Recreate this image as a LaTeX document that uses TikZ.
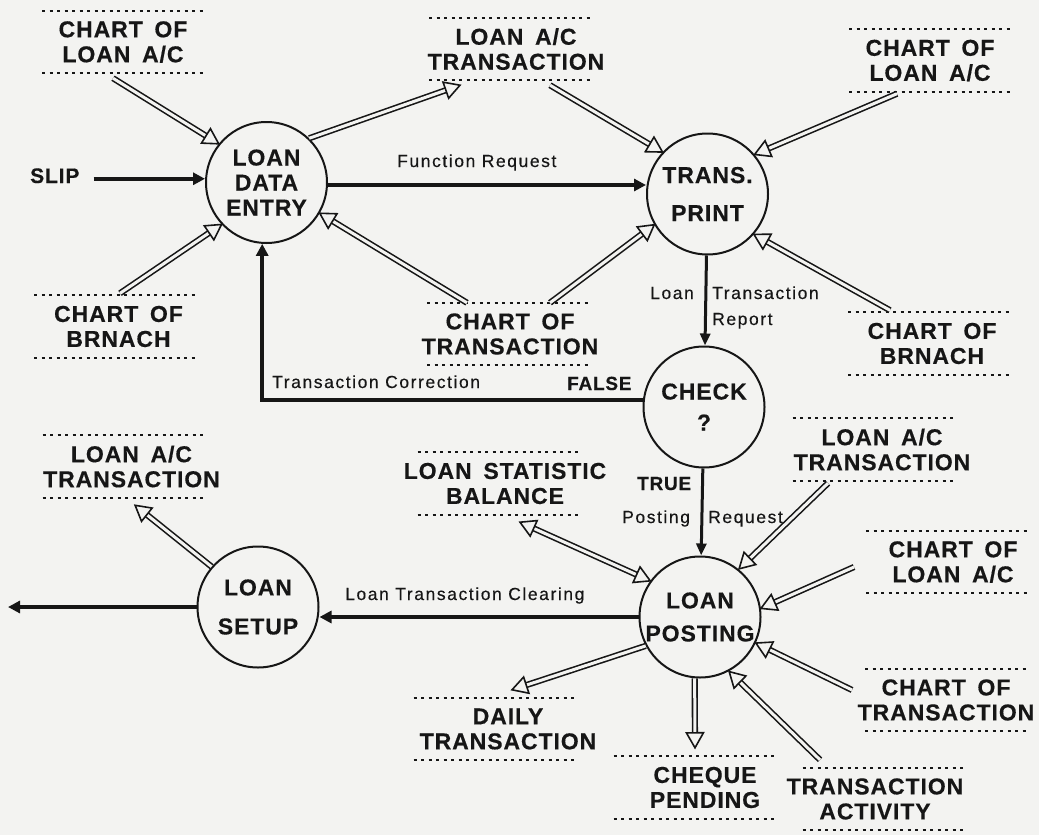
\documentclass[tikz,border=0pt]{standalone}
\usepackage{fontspec}
\setmainfont{Liberation Sans}
\newfontfamily\headfont[LetterSpace=4, WordSpace=1.6, FakeBold=0.4]{Liberation Sans}
\newfontfamily\notefont[LetterSpace=9, FakeBold=0.3]{Liberation Sans}
\usetikzlibrary{arrows.meta,decorations.markings}
\definecolor{paper}{RGB}{243,243,241}
\definecolor{ink}{RGB}{22,22,22}

\tikzset{
  proc/.style={circle, draw=ink, line width=2pt, minimum size=121pt, inner sep=0pt,
    align=center, text=ink, font=\headfont\bfseries\fontsize{23}{25}\selectfont},
  store/.style={align=center, inner sep=0pt, minimum height=62pt, text=ink,
    font=\headfont\bfseries\fontsize{23}{25}\selectfont},
  dotline/.style={draw=ink, line width=2pt, dash pattern=on 3pt off 4.5pt},
  note/.style={inner sep=0pt, text=ink, font=\notefont\fontsize{17.5}{20}\selectfont},
  tag/.style={inner sep=0pt, text=ink, font=\headfont\bfseries\fontsize{19}{22}\selectfont},
  flow/.style={draw=ink, line width=4.5pt, -{Triangle[length=12pt,width=12pt]}},
  thinflow/.style={draw=ink, line width=3pt, -{Triangle[length=12pt,width=10pt]}},
  headend/.style={decoration={markings, mark=at position 1 with
    {\filldraw[fill=paper, draw=ink, line width=1.6pt, shorten >=0pt, line join=miter]
      (0pt,0pt) -- (-15pt,8.5pt) -- (-15pt,-8.5pt) -- cycle;}}, decorate},
  headstart/.style={decoration={markings, mark=at position 0 with
    {\filldraw[fill=paper, draw=ink, line width=1.6pt, shorten <=0pt, line join=miter]
      (0pt,0pt) -- (15pt,8.5pt) -- (15pt,-8.5pt) -- cycle;}}, decorate},
  hollow/.style={draw=ink, double=paper, double distance=3pt, line width=1.6pt,
    shorten >=13pt, postaction={headend}},
  hollowboth/.style={hollow, shorten <=13pt, postaction={headstart}},
}

\begin{document}
\begin{tikzpicture}[x=1pt, y=-1pt]
  % page
  \fill[paper] (0,0) rectangle (1039,835);
  \useasboundingbox (0,0) rectangle (1039,835);

  % processes
  \node[proc] (lde)   at (266.5,182.5) {LOAN\\DATA\\ENTRY};
  \node[proc] (tp)    at (707.5,194)   {TRANS.\\[13pt]PRINT};
  \node[proc] (check) at (704,407)     {CHECK\\[6pt]?};
  \node[proc] (lp)    at (700,617)     {LOAN\\[8pt]POSTING};
  \node[proc] (ls)    at (258,607)     {LOAN\\[14pt]SETUP};

  % data stores
  \node[store] (cla1) at (123,42)      {CHART OF\\LOAN A/C};
  \node[store] (lat1) at (516,49)      {LOAN A/C\\TRANSACTION};
  \node[store] (cla2) at (930,60.5)    {CHART OF\\LOAN A/C};
  \node[store] (cb1)  at (118.5,326.5) {CHART OF\\BRNACH};
  \node[store] (ct1)  at (510,334)     {CHART OF\\TRANSACTION};
  \node[store] (cb2)  at (932,343.5)   {CHART OF\\BRNACH};
  \node[store] (lat2) at (131.5,466.5) {LOAN A/C\\TRANSACTION};
  \node[store] (lsb)  at (505,483.5)   {LOAN STATISTIC\\BALANCE};
  \node[store] (lat3) at (882,449.5)   {LOAN A/C\\TRANSACTION};
  \node[store] (cla3) at (953,562)     {CHART OF\\LOAN A/C};
  \node[store] (ct2)  at (946,700)     {CHART OF\\TRANSACTION};
  \node[store] (dt)   at (508,729)     {DAILY\\TRANSACTION};
  \node[store] (cp)   at (705,787.5)   {CHEQUE\\PENDING};
  \node[store] (ta)   at (875,799)     {TRANSACTION\\ACTIVITY};

  % dotted rules above and below each store
  \foreach \n/\o in {cla1/0, lat1/-6, cla2/0, cb1/-3.5, ct1/-2, cb2/-3, lat2/-8,
                     lsb/-6.5, lat3/-8.5, cla3/-6, ct2/0, dt/-13.5, cp/-10.5, ta/8.5} {
    \draw[dotline] ([xshift=\o pt-81pt]\n.north) -- ([xshift=\o pt+81pt]\n.north);
    \draw[dotline] ([xshift=\o pt-81pt]\n.south) -- ([xshift=\o pt+81pt]\n.south);
  }

  % flow labels
  \node[tag, anchor=base west, font=\headfont\bfseries\fontsize{21}{24}\selectfont] (slip) at (30,183) {SLIP};
  \node[note, anchor=base west] (fr)   at (397,167) {Function Request};
  \node[note, anchor=base west] (ltr1) at (650,299) {Loan};
  \node[note, anchor=base west] (ltr2) at (712,299) {Transaction};
  \node[note, anchor=base west] (ltr3) at (712,325) {Report};
  \node[note, anchor=base west] (tc)   at (272,388) {Transaction Correction};
  \node[tag,  anchor=base west] (fls)  at (567,390) {FALSE};
  \node[tag,  anchor=base west] (tru)  at (637,490) {TRUE};
  \node[note, anchor=base west] (pr1)  at (622,523) {Posting};
  \node[note, anchor=base west] (pr2)  at (708,523) {Request};
  \node[note, anchor=base west] (ltc)  at (345,600) {Loan Transaction Clearing};

  % control flows
  \coordinate (slipout) at ([yshift=-3pt]slip.east);
  \draw[flow, shorten <=14pt] (slipout) -- (slipout -| lde.west);
  \coordinate (frs) at ([yshift=-2.5pt]lde.east);
  \draw[flow] (frs) -- (frs -| tp.west);
  \draw[thinflow] (tp) -- (check);
  \draw[flow] ([yshift=7pt]check.west) -| (lde.266);
  \draw[thinflow] (check) -- (lp);
  \draw[flow] (lp.west) -- (lp.west -| ls.east);
  \coordinate (exit) at (8,607);
  \draw[flow] (ls.west) -- (exit);

  % data flows
  \draw[hollow] ([shift={(-10pt,-5pt)}]cla1.south) -- (lde.141);
  \draw[hollow] (lde.46) -- ([shift={(-56pt,-5pt)}]lat1.south);
  \draw[hollow] ([shift={(34pt,-5pt)}]lat1.south) -- (tp.137);
  \draw[hollow] ([shift={(-33pt,-2pt)}]cla2.south) -- (tp.40);
  \draw[hollow] ([shift={(1.5pt,2pt)}]cb1.north) -- (lde.223);
  \draw[hollow] ([xshift=-43pt]ct1.north) -- (lde.330);
  \draw[hollow] ([xshift=40pt]ct1.north) -- (tp.210);
  \draw[hollow] ([shift={(-42pt,2pt)}]cb2.north) -- (tp.319);
  \draw[hollow] (ls.139) -- ([shift={(3.5pt,-7.5pt)}]lat2.south);
  \draw[hollowboth] ([shift={(15pt,-7.5pt)}]lsb.south) -- (lp.144);
  \draw[hollow] ([shift={(-54pt,-2.5pt)}]lat3.south) -- (lp.51);
  \draw[hollow] ([shift={(-99pt,-5pt)}]cla3.center) -- (lp.8);
  \draw[hollow] ([shift={(-94pt,10pt)}]ct2.center) -- (lp.335);
  \draw[hollow] ([shift={(-55pt,8pt)}]ta.north) -- (lp.298);
  \draw[hollow] (lp.208) -- ([shift={(4pt,8pt)}]dt.north);
  \draw[hollow] (lp.265) -- ([shift={(-10pt,8.5pt)}]cp.north);
\end{tikzpicture}
\end{document}
